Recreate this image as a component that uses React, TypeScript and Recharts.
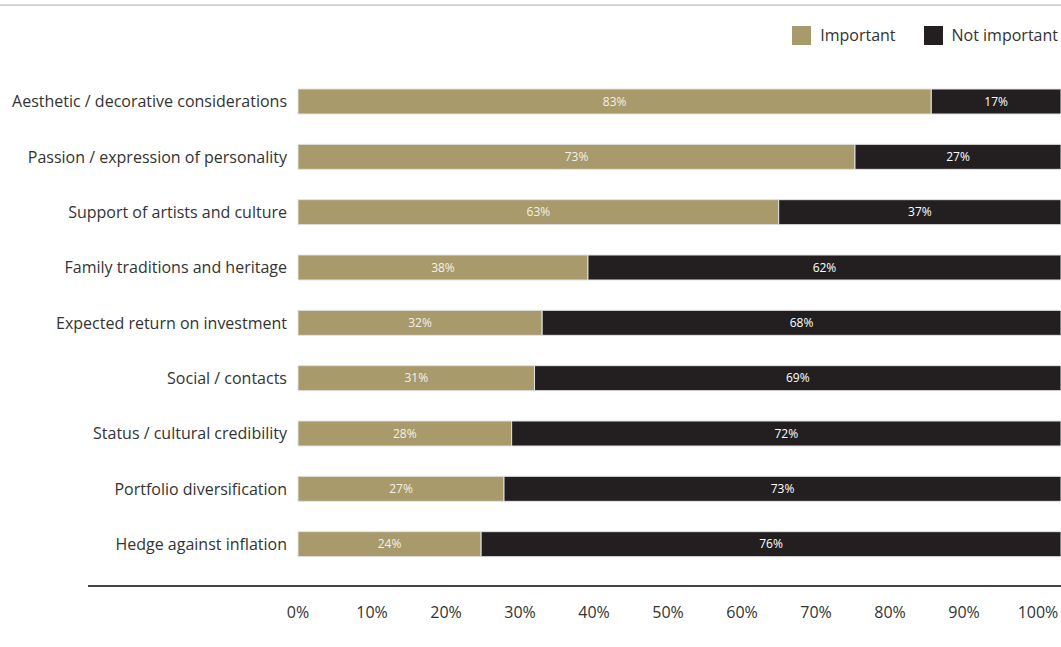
import React from 'react';
import { BarChart, Bar, XAxis, YAxis, LabelList } from 'recharts';

const categories = [
  'Aesthetic / decorative considerations',
  'Passion / expression of personality',
  'Support of artists and culture',
  'Family traditions and heritage',
  'Expected return on investment',
  'Social / contacts',
  'Status / cultural credibility',
  'Portfolio diversification',
  'Hedge against inflation'
];
const important = [83, 73, 63, 38, 32, 31, 28, 27, 24];
const notImportant = [17, 27, 37, 62, 68, 69, 72, 73, 76];
const xTickLabels = [0, 10, 20, 30, 40, 50, 60, 70, 80, 90, 100];

const TAN = '#A89A6B';
const DARK = '#231F20';
const FONT = '"Open Sans", sans-serif';

// the printed axis is a little narrower than the bars (100% sits short of the bar end)
const TICK_SCALE = 740 / 763;

const data = categories.map((name, i) => ({
  name,
  important: important[i],
  notImportant: notImportant[i]
}));

const legendItems = [
  { label: 'Important', color: TAN },
  { label: 'Not important', color: DARK }
];

export default function App() {
  return (
    <div
      style={{
        position: 'absolute',
        left: 0,
        top: 0,
        width: 1061,
        height: 647,
        background: '#fff',
        fontFamily: FONT,
        overflow: 'hidden'
      }}
    >
      {/* top rule */}
      <div style={{ position: 'absolute', left: 0, top: 4, width: 1061, height: 2, background: '#d4d4d4' }} />

      {/* legend */}
      <div
        style={{
          position: 'absolute',
          right: 3,
          top: 24,
          display: 'flex',
          alignItems: 'center',
          gap: 28,
          fontSize: 16,
          color: '#333'
        }}
      >
        {legendItems.map((item) => (
          <div key={item.label} style={{ display: 'flex', alignItems: 'center' }}>
            <div style={{ width: 19, height: 19, background: item.color, marginRight: 9 }} />
            <span>{item.label}</span>
          </div>
        ))}
      </div>

      {/* bottom rule */}
      <div style={{ position: 'absolute', left: 88, top: 585, width: 973, height: 1.5, background: '#444' }} />

      <BarChart
        width={1061}
        height={647}
        data={data}
        layout="vertical"
        margin={{ top: 74, right: 0, bottom: 0, left: 0 }}
        barSize={25}
      >
        <XAxis
          type="number"
          domain={[0, 100]}
          ticks={xTickLabels.map((t) => t * TICK_SCALE)}
          tickFormatter={(_v, i) => `${xTickLabels[i]}%`}
          axisLine={false}
          tickLine={false}
          tickSize={0}
          tickMargin={35}
          height={75}
          interval={0}
          tick={{ fill: '#333', fontSize: 16, fontFamily: FONT }}
        />
        <YAxis
          type="category"
          dataKey="name"
          width={298}
          axisLine={false}
          tickLine={false}
          tickSize={0}
          tickMargin={11}
          interval={0}
          tick={{ fill: '#333', fontSize: 16, fontFamily: FONT }}
        />
        <Bar
          dataKey="important"
          name="Important"
          stackId="a"
          fill={TAN}
          stroke="#e2e2e2"
          strokeWidth={1}
          isAnimationActive={false}
        >
          <LabelList
            dataKey="important"
            position="center"
            formatter={(v: number) => `${v}%`}
            style={{ fill: '#f4f1ea', fontSize: 12, fontFamily: FONT }}
          />
        </Bar>
        <Bar
          dataKey="notImportant"
          name="Not important"
          stackId="a"
          fill={DARK}
          stroke="#e2e2e2"
          strokeWidth={1}
          isAnimationActive={false}
        >
          <LabelList
            dataKey="notImportant"
            position="center"
            formatter={(v: number) => `${v}%`}
            style={{ fill: '#ffffff', fontSize: 12, fontFamily: FONT }}
          />
        </Bar>
      </BarChart>
    </div>
  );
}
